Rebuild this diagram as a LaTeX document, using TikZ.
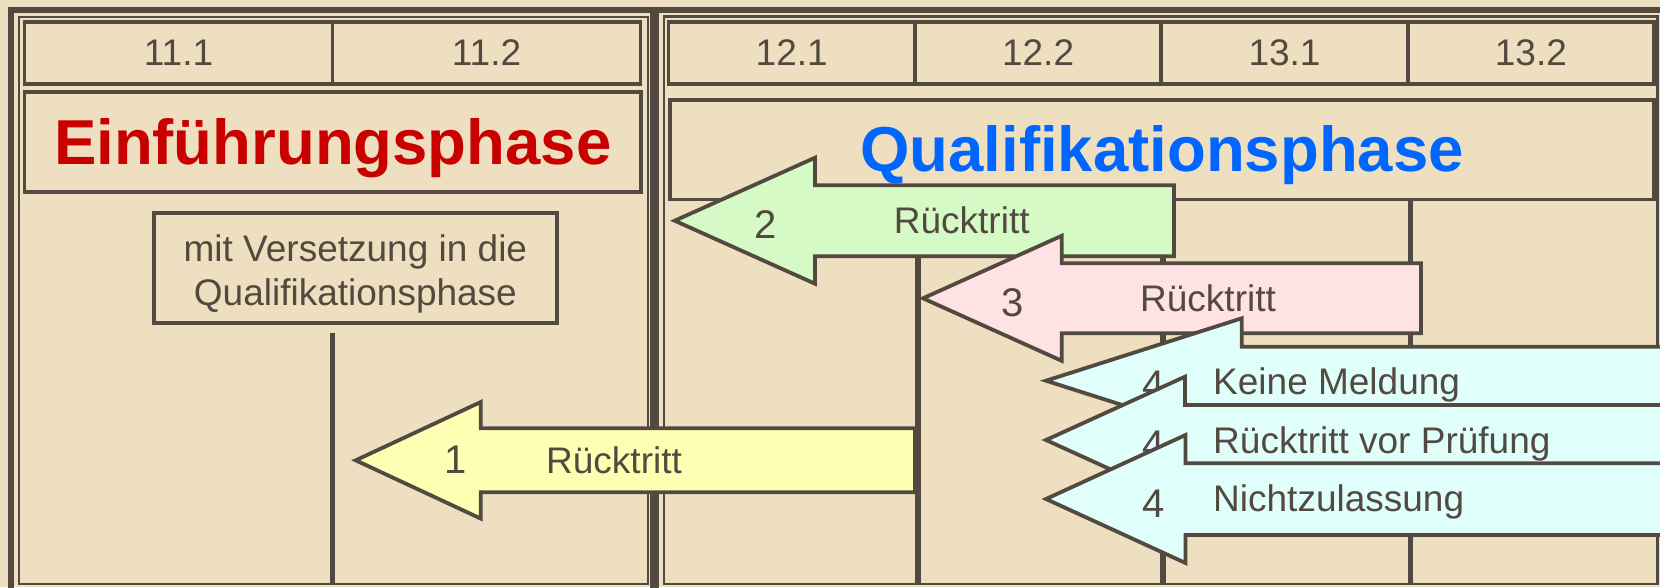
\documentclass[tikz,border=0pt]{standalone}
\usepackage{fontspec}
\setmainfont{Liberation Sans}
\usepackage{tikz}

\definecolor{parchment}{RGB}{237,223,191}
\definecolor{ink}{RGB}{82,74,64}
\definecolor{einred}{RGB}{200,0,0}
\definecolor{qualblue}{RGB}{0,102,255}
\definecolor{arrowyellow}{RGB}{255,255,180}
\definecolor{arrowgreen}{RGB}{214,250,198}
\definecolor{arrowpink}{RGB}{255,226,228}
\definecolor{arrowcyan}{RGB}{224,255,250}

\newcommand{\lblsize}{\fontsize{37pt}{44pt}\selectfont}
\newcommand{\numsize}{\fontsize{40pt}{44pt}\selectfont}
\newcommand{\phasesize}{\fontsize{63.5pt}{70pt}\selectfont\bfseries}

\tikzset{
  cell/.style={draw=ink, line width=3.8pt, rectangle, inner sep=0pt, outer sep=0pt,
    minimum height=62pt, text=ink, font=\lblsize},
  phasebox/.style={draw=ink, line width=3.8pt, rectangle, inner sep=0pt, outer sep=0pt,
    text height=46pt, text depth=2pt, font=\phasesize},
  lbl/.style={anchor=base west, inner sep=0pt, text=ink, font=\lblsize},
  num/.style={lbl, font=\numsize},
  blockarrow/.style={draw=ink, line width=3.8pt, line join=miter},
  gridline/.style={draw=ink, line width=5.5pt},
}

\begin{document}
\begin{tikzpicture}[x=1pt, y=-1pt]
        \useasboundingbox (0,0) rectangle (1660,587);
        \clip (0,0) rectangle (1660,587);
        \fill[parchment] (0,0) rectangle (1660,587);

        % Frames
        \draw[ink, line width=5.5pt] (10.8,10) rectangle (653,600);
        \draw[ink, line width=2.2pt] (19,16.8) rectangle (648.3,584);
        \draw[ink, line width=5.5pt] (656,10) rectangle (1668,600);
        \draw[ink, line width=2.2pt] (664,16.5) rectangle (1657.5,584);

        % Nodes
        \node[cell, minimum width=308pt] (c111) at (178.5,53) {11.1};
        \node[cell, minimum width=308pt] (c112) at (486.5,53) {11.2};
        \node[cell, minimum width=246.4pt] (c121) at (791.7,53) {12.1};
        \node[cell, minimum width=246.4pt] (c122) at (1038.1,53) {12.2};
        \node[cell, minimum width=246.4pt] (c131) at (1284.5,53) {13.1};
        \node[cell, minimum width=246.4pt] (c132) at (1530.9,53) {13.2};

        \node[phasebox, minimum width=616.5pt, minimum height=100pt, text=einred] (einf) at (332.75,142) {Einführungsphase};
        \node[phasebox, minimum width=984pt, minimum height=99.5pt, text=qualblue] (qual) at (1162,149.75) {Qualifikationsphase};

        \node[draw=ink, line width=3.8pt, rectangle, minimum width=402.7pt, minimum height=110pt] (verset) at (355.4,268.3) {};
        \node[align=center, text=ink, font=\lblsize] (versettext) at ([yshift=-6pt]verset.center) {mit Versetzung in die\\Qualifikationsphase};

        % Lines
        \draw[gridline, line width=4.5pt] (332.5,333) -- (332.5,584);
        \draw[gridline] (918,199.5) -- (918,584);
        \draw[gridline] (1163,199.5) -- (1163,584);
        \draw[gridline] (1410.6,199.5) -- (1410.6,584);

        % Arrows
        \filldraw[blockarrow, fill=arrowyellow] (355.7,460.3) -- (480.8,402) -- (480.8,428.3) -- (915,428.3) -- (915,492.3) -- (480.8,492.3) -- (480.8,518.6) -- cycle;
        \node[num] (n1) at (444,473) {1};
        \node[lbl] (t1) at (546,473) {Rücktritt};

        \filldraw[blockarrow, fill=arrowgreen] (674.7,220.7) -- (815,157.7) -- (815,185.2) -- (1174,185.2) -- (1174,256.2) -- (815,256.2) -- (815,283.7) -- cycle;
        \node[num] (n2) at (754,238) {2};
        \node[lbl] (t2) at (893.7,233) {Rücktritt};

        \filldraw[blockarrow, fill=arrowpink] (923,298.3) -- (1061.7,235.8) -- (1061.7,263.3) -- (1421,263.3) -- (1421,333.3) -- (1061.7,333.3) -- (1061.7,360.8) -- cycle;
        \node[num] (n3) at (1001,316.7) {3};
        \node[lbl] (t3) at (1140,311.7) {Rücktritt};

        \filldraw[blockarrow, fill=arrowcyan] (1046,380.7) -- (1241.7,318.3) -- (1241.7,346.7) -- (1680,346.7) -- (1680,414.7) -- (1241.7,414.7) -- (1241.7,443.1) -- cycle;
        \node[num] (n4a) at (1142,398.7) {4};
        \node[lbl] (t4a) at (1213,394) {Keine Meldung};

        \filldraw[blockarrow, fill=arrowcyan] (1046,440) -- (1185,376.7) -- (1185,405) -- (1680,405) -- (1680,475) -- (1185,475) -- (1185,503.3) -- cycle;
        \node[num] (n4b) at (1142,458) {4};
        \node[lbl] (t4b) at (1213,453) {Rücktritt vor Prüfung};

        \filldraw[blockarrow, fill=arrowcyan] (1046,499) -- (1185.5,435) -- (1185.5,463.3) -- (1680,463.3) -- (1680,535) -- (1185.5,535) -- (1185.5,563) -- cycle;
        \node[num] (n4c) at (1142,517) {4};
        \node[lbl] (t4c) at (1213,511) {Nichtzulassung};
\end{tikzpicture}
\end{document}
